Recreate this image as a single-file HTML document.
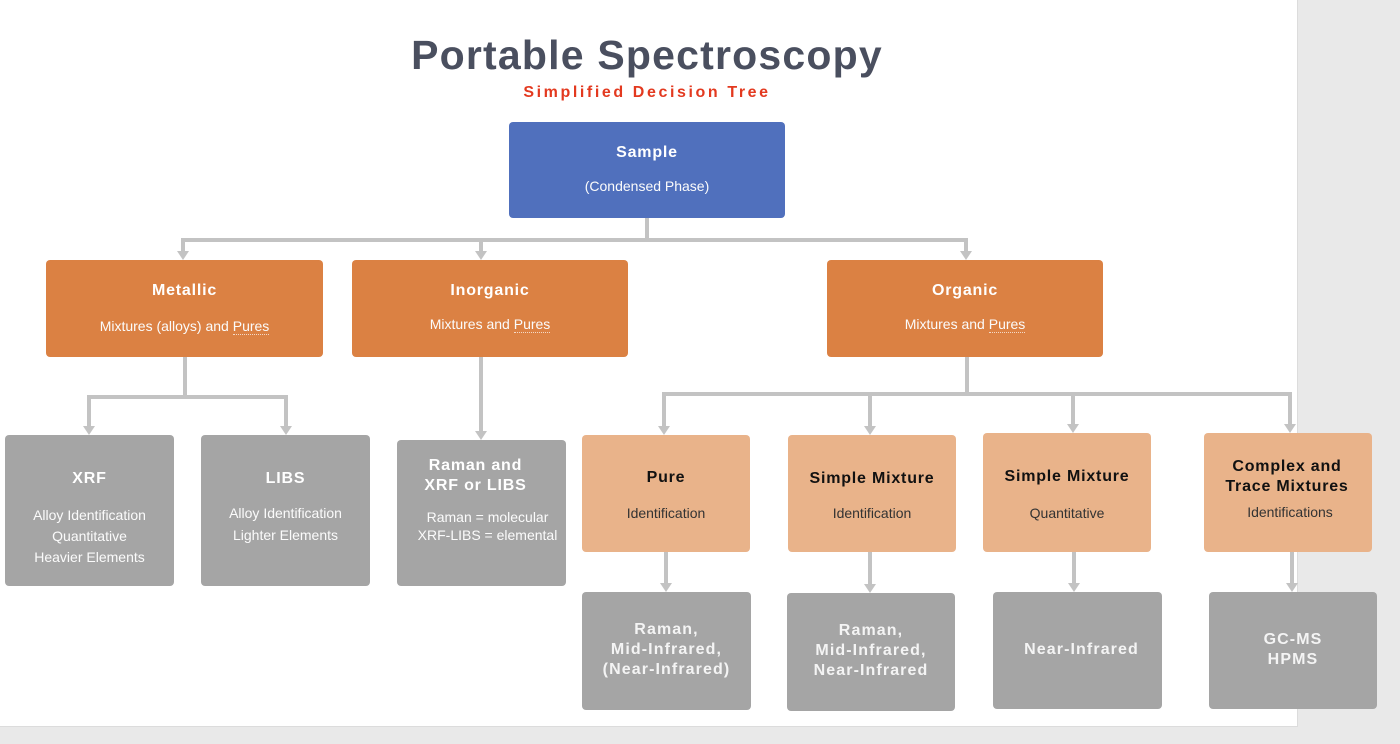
<!DOCTYPE html>
<html><head><meta charset="utf-8"><style>
*{margin:0;padding:0;box-sizing:border-box}
html,body{width:1400px;height:744px;overflow:hidden;background:#e9e9e9;font-family:"Liberation Sans",sans-serif}
#page{position:absolute;left:0;top:0;width:1298px;height:727px;background:#fff;border-right:1px solid #dcdcdc;border-bottom:1px solid #dcdcdc}
.box{position:absolute;border-radius:4px}
.blue{background:#5070bd}
.org{background:#db8143}
.lor{background:#e9b38a}
.gry{background:#a5a5a5}
.t{position:absolute;text-align:center;white-space:nowrap;height:20px;line-height:20px}
.b{font-weight:bold;font-size:16px;letter-spacing:0.8px;color:#fff}
.bk{color:#111}
.l{font-size:14px;color:#fbfbfb}
.dk{color:#333}
.g{font-weight:bold;font-size:16px;letter-spacing:1.1px;color:#f4f4f4}
.sp{border-bottom:1px dotted rgba(255,255,255,0.7)}
</style></head><body>
<div id="page"></div>

<div style="position:absolute;left:347px;top:30px;width:600px;text-align:center;font-weight:bold;font-size:41px;letter-spacing:1.2px;color:#4a4f5f;line-height:50px">Portable Spectroscopy</div>
<div style="position:absolute;left:447px;top:83px;width:400px;text-align:center;font-weight:bold;font-size:16px;letter-spacing:2.6px;color:#e3391f;line-height:20px">Simplified Decision Tree</div>

<svg style="position:absolute;left:0;top:0" width="1400" height="744">
<g fill="none" stroke="#c3c3c3" stroke-width="4" stroke-linejoin="miter">
<path d="M647,218 V240"/>
<path d="M183,252 V240 H966 V252"/>
<path d="M481,240 V252"/>
<path d="M185,357 V397"/>
<path d="M89,427 V397 H286 V427"/>
<path d="M481,357 V432"/>
<path d="M967,357 V394"/>
<path d="M664,427 V394 H1290 V425"/>
<path d="M870,394 V427"/>
<path d="M1073,394 V425"/>
<path d="M666,552 V584"/>
<path d="M870,552 V585"/>
<path d="M1074,552 V584"/>
<path d="M1292,552 V584"/>
</g>
<g fill="#c3c3c3">
<polygon points="177,251 189,251 183,260"/>
<polygon points="475,251 487,251 481,260"/>
<polygon points="960,251 972,251 966,260"/>
<polygon points="83,426 95,426 89,435"/>
<polygon points="280,426 292,426 286,435"/>
<polygon points="475,431 487,431 481,440"/>
<polygon points="658,426 670,426 664,435"/>
<polygon points="864,426 876,426 870,435"/>
<polygon points="1067,424 1079,424 1073,433"/>
<polygon points="1284,424 1296,424 1290,433"/>
<polygon points="660,583 672,583 666,592"/>
<polygon points="864,584 876,584 870,593"/>
<polygon points="1068,583 1080,583 1074,592"/>
<polygon points="1286,583 1298,583 1292,592"/>
</g>
</svg>

<!-- Sample -->
<div class="box blue" style="left:509px;top:122px;width:276px;height:96px"></div>
<div class="t b" style="left:509px;width:276px;top:143px">Sample</div>
<div class="t l" style="left:509px;width:276px;top:176px">(Condensed Phase)</div>

<!-- Level 2 -->
<div class="box org" style="left:46px;top:260px;width:277px;height:97px"></div>
<div class="t b" style="left:46px;width:277px;top:281px">Metallic</div>
<div class="t l" style="left:46px;width:277px;top:316px">Mixtures (alloys) and <span class="sp">Pures</span></div>

<div class="box org" style="left:352px;top:260px;width:276px;height:97px"></div>
<div class="t b" style="left:352px;width:276px;top:281px">Inorganic</div>
<div class="t l" style="left:352px;width:276px;top:314px">Mixtures and <span class="sp">Pures</span></div>

<div class="box org" style="left:827px;top:260px;width:276px;height:97px"></div>
<div class="t b" style="left:827px;width:276px;top:281px">Organic</div>
<div class="t l" style="left:827px;width:276px;top:314px">Mixtures and <span class="sp">Pures</span></div>

<!-- Metallic children -->
<div class="box gry" style="left:5px;top:435px;width:169px;height:151px"></div>
<div class="t b" style="left:5px;width:169px;top:469px">XRF</div>
<div class="t l" style="left:5px;width:169px;top:505px">Alloy Identification</div>
<div class="t l" style="left:5px;width:169px;top:526px">Quantitative</div>
<div class="t l" style="left:5px;width:169px;top:547px">Heavier Elements</div>

<div class="box gry" style="left:201px;top:435px;width:169px;height:151px"></div>
<div class="t b" style="left:201px;width:169px;top:469px">LIBS</div>
<div class="t l" style="left:201px;width:169px;top:503px">Alloy Identification</div>
<div class="t l" style="left:201px;width:169px;top:525px">Lighter Elements</div>

<!-- Inorganic child -->
<div class="box gry" style="left:397px;top:440px;width:169px;height:146px"></div>
<div class="t b" style="left:391px;width:169px;top:456px">Raman and</div>
<div class="t b" style="left:391px;width:169px;top:476px">XRF or LIBS</div>
<div class="t l" style="left:403px;width:169px;top:507px">Raman = molecular</div>
<div class="t l" style="left:403px;width:169px;top:525px">XRF-LIBS = elemental</div>

<!-- Organic children -->
<div class="box lor" style="left:582px;top:435px;width:168px;height:117px"></div>
<div class="t b bk" style="left:582px;width:168px;top:468px">Pure</div>
<div class="t l dk" style="left:582px;width:168px;top:503px">Identification</div>

<div class="box lor" style="left:788px;top:435px;width:168px;height:117px"></div>
<div class="t b bk" style="left:788px;width:168px;top:469px">Simple Mixture</div>
<div class="t l dk" style="left:788px;width:168px;top:503px">Identification</div>

<div class="box lor" style="left:983px;top:433px;width:168px;height:119px"></div>
<div class="t b bk" style="left:983px;width:168px;top:467px">Simple Mixture</div>
<div class="t l dk" style="left:983px;width:168px;top:503px">Quantitative</div>

<div class="box lor" style="left:1204px;top:433px;width:168px;height:119px"></div>
<div class="t b bk" style="left:1203px;width:168px;top:457px">Complex and</div>
<div class="t b bk" style="left:1203px;width:168px;top:477px">Trace Mixtures</div>
<div class="t l dk" style="left:1206px;width:168px;top:502px">Identifications</div>

<!-- Bottom row -->
<div class="box gry" style="left:582px;top:592px;width:169px;height:118px"></div>
<div class="t g" style="left:582px;width:169px;top:620px">Raman,</div>
<div class="t g" style="left:582px;width:169px;top:640px">Mid-Infrared,</div>
<div class="t g" style="left:582px;width:169px;top:660px">(Near-Infrared)</div>

<div class="box gry" style="left:787px;top:593px;width:168px;height:118px"></div>
<div class="t g" style="left:787px;width:168px;top:621px">Raman,</div>
<div class="t g" style="left:787px;width:168px;top:641px">Mid-Infrared,</div>
<div class="t g" style="left:787px;width:168px;top:661px">Near-Infrared</div>

<div class="box gry" style="left:993px;top:592px;width:169px;height:117px"></div>
<div class="t g" style="left:993px;width:177px;top:640px">Near-Infrared</div>

<div class="box gry" style="left:1209px;top:592px;width:168px;height:117px"></div>
<div class="t g" style="left:1209px;width:168px;top:630px">GC-MS</div>
<div class="t g" style="left:1209px;width:168px;top:650px">HPMS</div>

</body></html>
